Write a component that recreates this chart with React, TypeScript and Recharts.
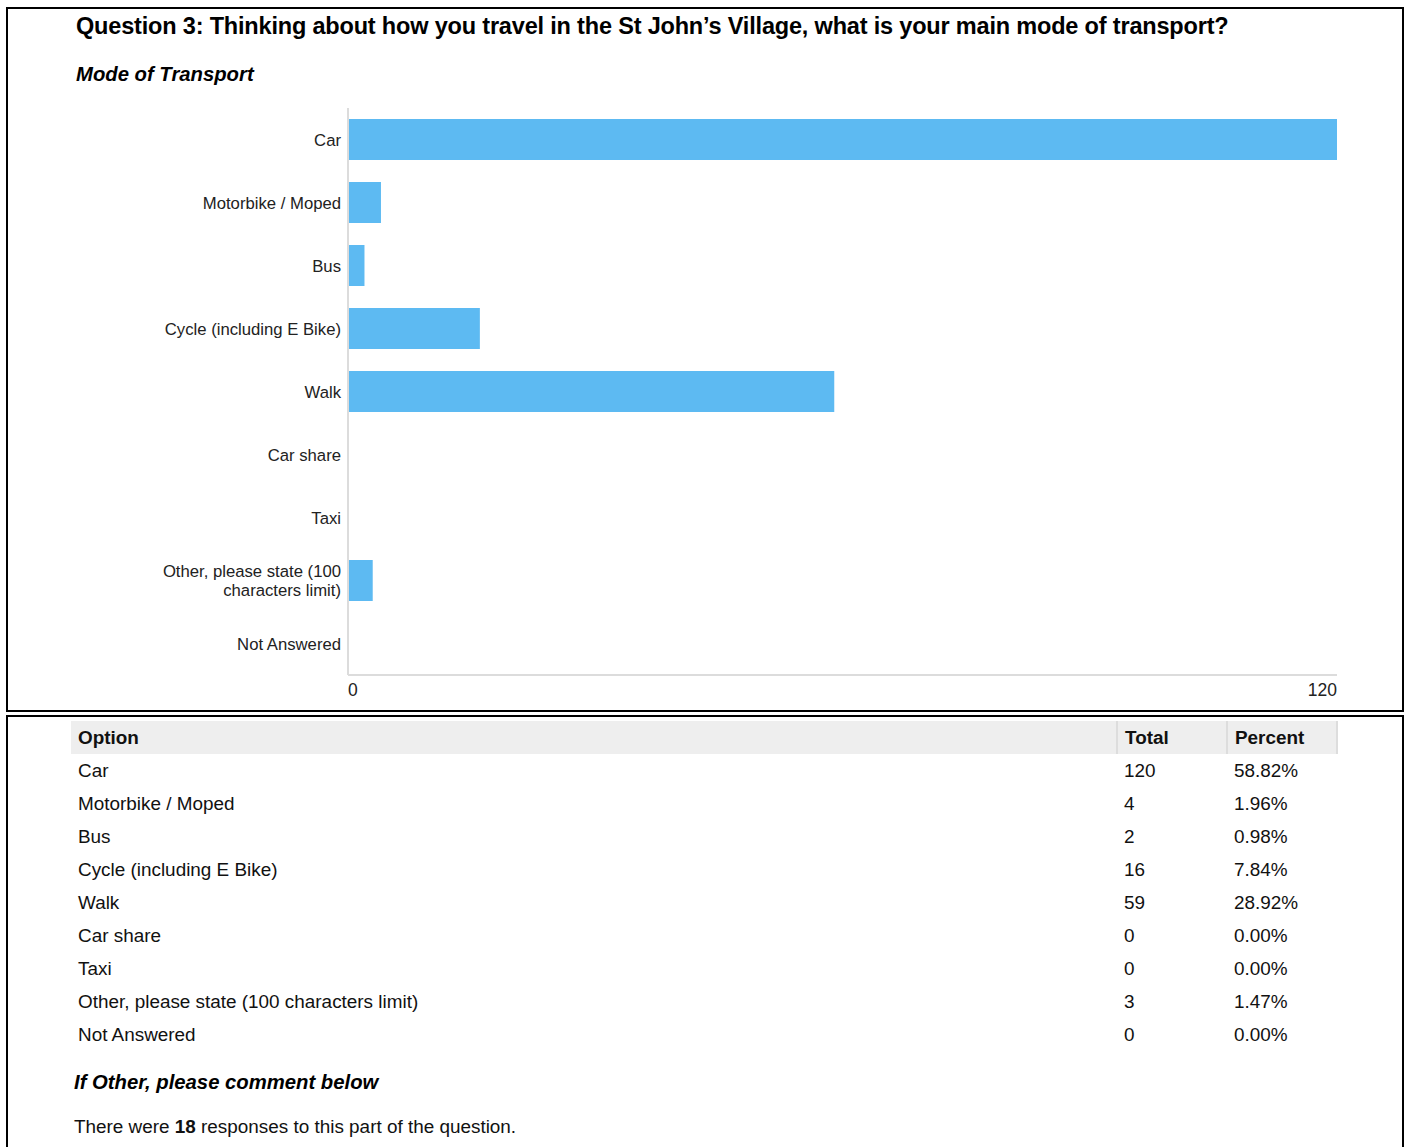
import React from 'react';
import { BarChart, Bar, XAxis, YAxis } from 'recharts';

const CATEGORIES = [
  'Car',
  'Motorbike / Moped',
  'Bus',
  'Cycle (including E Bike)',
  'Walk',
  'Car share',
  'Taxi',
  'Other, please state (100 characters limit)',
  'Not Answered',
];
const TOTALS = [120, 4, 2, 16, 59, 0, 0, 3, 0];
const PERCENTS = ['58.82%', '1.96%', '0.98%', '7.84%', '28.92%', '0.00%', '0.00%', '1.47%', '0.00%'];
const X_TICKS = [0, 120];

const FONT = "'Liberation Sans', Arial, sans-serif";
const BAR_COLOR = '#5dbaf2';
const AXIS_COLOR = '#dcdcdc';

const data = CATEGORIES.map((name, i) => ({ name, total: TOTALS[i] }));

// wrap long labels the same way the original report does (approx. 25 chars per line)
const wrap = (s: string, max = 25): string[] => {
  const lines: string[] = [];
  let cur = '';
  s.split(' ').forEach(w => {
    const next = cur ? cur + ' ' + w : w;
    if (next.length > max && cur) {
      lines.push(cur);
      cur = w;
    } else cur = next;
  });
  if (cur) lines.push(cur);
  return lines;
};

const YTick = (props: any) => {
  const { x, y, payload } = props;
  const lines = wrap(String(payload.value));
  const lh = 19;
  const start = y - ((lines.length - 1) * lh) / 2;
  return (
    <text x={x + 1} y={start} textAnchor="end" fill="#222" fontSize={16.7} fontFamily={FONT} dominantBaseline="central">
      {lines.map((l, i) => (
        <tspan key={i} x={x + 1} dy={i === 0 ? 0 : lh}>
          {l}
        </tspan>
      ))}
    </text>
  );
};

const XTick = (props: any) => {
  const { x, y, payload, index } = props;
  return (
    <text x={x} y={y} dy="0.75em" textAnchor={index === 0 ? 'start' : 'end'} fill="#222" fontSize={17.5} fontFamily={FONT}>
      {payload.value}
    </text>
  );
};

const cell: React.CSSProperties = { padding: '0 0 0 7px', height: 33, textAlign: 'left', verticalAlign: 'middle' };

export default function App() {
  return (
    <div style={{ position: 'absolute', left: 0, top: 0, width: 1405, height: 1147, overflow: 'hidden', background: '#fff', fontFamily: FONT, color: '#111' }}>
      <div style={{ position: 'absolute', left: 6, top: 7, width: 1394, height: 701, border: '2px solid #000' }} />
      <div style={{ position: 'absolute', left: 6, top: 715, width: 1394, height: 500, border: '2px solid #000' }} />

      <div style={{ position: 'absolute', top: 100, left: 0 }}>
        <BarChart width={1405} height={612} data={data} layout="vertical" margin={{ top: 8, right: 68, bottom: 7, left: 0 }}>
          <XAxis
            type="number"
            domain={[0, 120]}
            ticks={X_TICKS}
            tickLine={false}
            axisLine={{ stroke: AXIS_COLOR, strokeWidth: 2 }}
            tick={<XTick />}
            height={30}
          />
          <YAxis
            type="category"
            dataKey="name"
            width={348}
            tickLine={false}
            axisLine={{ stroke: AXIS_COLOR, strokeWidth: 2 }}
            tick={<YTick />}
            interval={0}
          />
          <Bar dataKey="total" fill={BAR_COLOR} barSize={41} isAnimationActive={false} />
        </BarChart>
      </div>

      <div style={{ position: 'absolute', left: 76, top: 13, fontSize: 23.5, fontWeight: 'bold', color: '#000', whiteSpace: 'nowrap', letterSpacing: -0.18 }}>
        Question 3: Thinking about how you travel in the St John’s Village, what is your main mode of transport?
      </div>
      <div style={{ position: 'absolute', left: 76, top: 63, fontSize: 20.3, fontWeight: 'bold', fontStyle: 'italic', color: '#000' }}>
        Mode of Transport
      </div>

      <table style={{ position: 'absolute', left: 71, top: 721, width: 1267, borderCollapse: 'collapse', fontSize: 18.9, color: '#111' }}>
        <thead>
          <tr style={{ background: '#eeeeee' }}>
            <th style={{ ...cell, width: 1038, borderRight: '2px solid #dddddd' }}>Option</th>
            <th style={{ ...cell, width: 101, borderRight: '2px solid #dddddd' }}>Total</th>
            <th style={{ ...cell, borderRight: '2px solid #dddddd' }}>Percent</th>
          </tr>
        </thead>
        <tbody>
          {CATEGORIES.map((c, i) => (
            <tr key={c}>
              <td style={cell}>{c}</td>
              <td style={cell}>{TOTALS[i]}</td>
              <td style={cell}>{PERCENTS[i]}</td>
            </tr>
          ))}
        </tbody>
      </table>

      <div style={{ position: 'absolute', left: 74, top: 1071, fontSize: 20.3, fontWeight: 'bold', fontStyle: 'italic', color: '#000' }}>
        If Other, please comment below
      </div>
      <div style={{ position: 'absolute', left: 74, top: 1116, fontSize: 18.9, color: '#111' }}>
        There were <b>18</b> responses to this part of the question.
      </div>
    </div>
  );
}
